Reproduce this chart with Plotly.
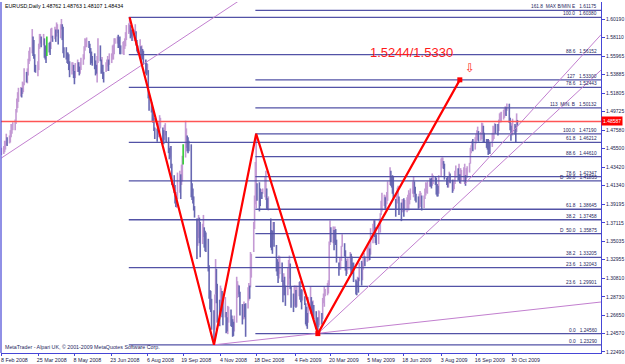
import pandas as pd
import plotly.graph_objects as go

# ---------------- data (prices x 10000, one value per trading day, from 8 Feb 2008) ----------------
bar_low = [
    14480,
    14490, 14510, 14540, 14590, 14580,
    14610, 14620, 14680, 14720, 14760,
    14760, 14830, 14960, 15010, 15080,
    15140, 15130, 15170, 15190, 15270,
    15300, 15290, 15380, 15510, 15540,
    15630, 15600, 15570, 15420, 15410,
    15370, 15440, 15680, 15740, 15700,
    15720, 15580, 15560, 15520, 15600,
    15640, 15610, 15680, 15800, 15760,
    15790, 15760, 15820, 15860, 15730,
    15800, 15900, 15780, 15630, 15580,
    15560, 15520, 15510, 15440, 15360,
    15390, 15430, 15350, 15280, 15350,
    15420, 15420, 15380, 15400, 15440,
    15500, 15560, 15660, 15700, 15700,
    15690, 15630, 15500, 15520, 15490,
    15450, 15380, 15400, 15300, 15520,
    15540, 15400, 15420, 15340, 15300,
    15420, 15430, 15480, 15430, 15500,
    15520, 15560, 15560, 15620, 15740,
    15740, 15690, 15700, 15620, 15620,
    15620, 15610, 15680, 15710, 15780,
    15850, 15870, 15800, 15820, 15770,
    15770, 15850, 15720, 15650, 15630,
    15640, 15540, 15580, 15560, 15500,
    15400, 15380, 15400, 15120, 14980,
    14960, 14860, 14840, 14750, 14660,
    14630, 14700, 14680, 14740, 14780,
    14620, 14600, 14650, 14700, 14620,
    14500, 14430, 14450, 14330, 14140,
    14050, 13930, 13890, 13880, 13980,
    14050, 13980, 14140, 14180, 14370,
    14450, 14560, 14520, 14500, 14520,
    14000, 13970, 13930, 13850, 13770,
    13300, 13450, 13540, 13480, 13320,
    13470, 13550, 13430, 13390, 13380,
    13160, 12850, 12730, 12700, 12500,
    12329, 12500, 12900, 12800, 12580,
    12540, 12740, 12800, 12640, 12550,
    12640, 12460, 12480, 12450, 12580,
    12540, 12530, 12420, 12430, 12480,
    12580, 12860, 12900, 12870, 12660,
    12560, 12620, 12620, 12640, 12420,
    12740, 12830, 12850, 12980, 13090,
    13380, 13640, 13920, 13880, 13960,
    13840, 13900, 13980, 13980, 14040,
    14000, 13970, 13870, 13860, 13850,
    13430, 13400, 13360, 13520, 13440,
    13160, 13110, 13030, 13080, 13130,
    13040, 12810, 12890, 12890, 12770,
    12890, 13010, 13080, 12960, 12750,
    12700, 12760, 12780, 12750, 12760,
    12880, 12840, 12810, 12730, 12830,
    12780, 12560, 12540, 12510, 12580,
    12680, 12700, 12680, 12720, 12620,
    12510, 12490, 12456, 12530, 12550,
    12560, 12620, 12800, 12760, 12880,
    12890, 12910, 13000, 13460, 13490,
    13480, 13400, 13490, 13460, 13260,
    13110, 13180, 13180, 13280, 13440,
    13330, 13170, 13110, 13130, 13180,
    13180, 13140, 13140, 13130, 13040,
    12900, 12890, 12990, 12920, 13050,
    13000, 13060, 13180, 13230, 13220,
    13270, 13320, 13280, 13290, 13350,
    13480, 13600, 13550, 13480, 13460,
    13470, 13640, 13600, 13800, 13840,
    13900, 13870, 13860, 13920, 13960,
    14140, 14130, 14110, 14040, 13970,
    13780, 13870, 13930, 13960, 13800,
    13730, 13830, 13840, 13780, 13840,
    13830, 13880, 13850, 13920, 13970,
    14040, 14000, 14040, 13960, 13940,
    13870, 13880, 13890, 13920, 13850,
    13880, 13980, 14020, 14050, 14040,
    14120, 14120, 14100, 14130, 14150,
    14140, 14030, 14010, 14010, 14040,
    14230, 14330, 14370, 14320, 14200,
    14140, 14110, 14110, 14170, 14160,
    14050, 14070, 14090, 14150, 14220,
    14190, 14210, 14160, 14150, 14190,
    14180, 14150, 14130, 14200, 14220,
    14280, 14380, 14500, 14570, 14520,
    14540, 14610, 14640, 14650, 14630,
    14640, 14660, 14720, 14620, 14620,
    14560, 14540, 14480, 14500, 14490,
    14570, 14640, 14660, 14720, 14720,
    14700, 14750, 14840, 14860, 14850,
    14880, 14900, 14930, 14920, 14980,
    14840, 14760, 14640, 14730, 14700,
    14710, 14620, 14740, 14811,
]
bar_high = [
    14560,
    14580, 14640, 14640, 14720, 14680,
    14700, 14760, 14830, 14820, 14850,
    14880, 15000, 15120, 15190, 15240,
    15250, 15240, 15310, 15300, 15460,
    15420, 15460, 15570, 15660, 15700,
    15905, 15820, 15780, 15620, 15500,
    15540, 15740, 15850, 15850, 15820,
    15850, 15800, 15720, 15700, 15820,
    15750, 15760, 15910, 15920, 15830,
    15930, 15900, 15980, 15960, 15900,
    15960, 16019, 15960, 15930, 15700,
    15700, 15640, 15640, 15620, 15540,
    15530, 15530, 15500, 15430, 15520,
    15560, 15530, 15480, 15530, 15580,
    15620, 15710, 15800, 15790, 15810,
    15770, 15740, 15690, 15650, 15600,
    15630, 15550, 15500, 15600, 15800,
    15720, 15560, 15590, 15500, 15420,
    15530, 15560, 15600, 15560, 15630,
    15630, 15720, 15730, 15800, 15800,
    15820, 15840, 15780, 15820, 15720,
    15760, 15770, 15800, 15870, 15950,
    15970, 16038, 15950, 15900, 15880,
    15900, 15960, 15880, 15780, 15720,
    15790, 15710, 15720, 15680, 15660,
    15560, 15520, 15510, 15440, 15160,
    15080, 15000, 14980, 14900, 14790,
    14780, 14830, 14850, 14930, 14900,
    14790, 14760, 14820, 14840, 14750,
    14680, 14560, 14580, 14580, 14380,
    14250, 14140, 14010, 14060, 14280,
    14300, 14260, 14370, 14470, 14600,
    14867, 14780, 14700, 14680, 14640,
    14600, 14160, 14100, 14010, 13900,
    13760, 13760, 13800, 13770, 13720,
    13700, 13800, 13660, 13620, 13600,
    13530, 13230, 12950, 12940, 12850,
    12720, 12900, 13300, 13190, 13020,
    12840, 13000, 12970, 12940, 12850,
    12870, 12700, 12640, 12770, 12760,
    12730, 12660, 12620, 12590, 12660,
    13100, 13050, 13010, 13000, 12930,
    12790, 12790, 12820, 12790, 12800,
    12980, 13030, 13000, 13380, 13360,
    13720, 14020, 14400, 14719, 14160,
    14170, 14100, 14090, 14060, 14100,
    14230, 14300, 14100, 13990, 14010,
    13760, 13630, 13620, 13720, 13720,
    13460, 13300, 13270, 13340, 13330,
    13260, 13060, 13140, 13100, 13000,
    13200, 13290, 13340, 13250, 12990,
    12910, 13000, 13000, 12950, 13000,
    13040, 13050, 12950, 12960, 12950,
    12880, 12800, 12760, 12690, 12870,
    12990, 12870, 12820, 12830, 12780,
    12710, 12630, 12640, 12720, 12710,
    12690, 12860, 12910, 12990, 12960,
    13030, 13060, 13500, 13738, 13660,
    13670, 13630, 13670, 13640, 13520,
    13260, 13320, 13320, 13450, 13580,
    13480, 13400, 13280, 13300, 13310,
    13380, 13360, 13330, 13260, 13260,
    13070, 13050, 13100, 13090, 13260,
    13280, 13260, 13330, 13370, 13330,
    13440, 13440, 13480, 13420, 13650,
    13700, 13740, 13740, 13660, 13580,
    13700, 13760, 13820, 13960, 14050,
    14030, 14000, 14020, 14060, 14180,
    14340, 14300, 14230, 14250, 14230,
    13980, 14030, 14110, 14130, 14010,
    13940, 13980, 13980, 13990, 13970,
    14000, 14030, 14080, 14050, 14100,
    14180, 14240, 14180, 14120, 14040,
    14010, 14040, 14070, 14050, 14020,
    14020, 14100, 14170, 14160, 14180,
    14220, 14210, 14220, 14270, 14250,
    14240, 14220, 14150, 14130, 14250,
    14440, 14450, 14450, 14410, 14380,
    14220, 14230, 14240, 14290, 14270,
    14200, 14180, 14200, 14300, 14360,
    14330, 14380, 14260, 14330, 14310,
    14340, 14380, 14250, 14330, 14350,
    14390, 14560, 14590, 14640, 14660,
    14680, 14720, 14760, 14800, 14750,
    14740, 14845, 14840, 14810, 14730,
    14660, 14660, 14660, 14650, 14620,
    14730, 14810, 14790, 14840, 14830,
    14830, 14880, 14950, 14960, 14970,
    14990, 15010, 15030, 15020, 15061,
    15060, 14900, 14810, 14840, 14890,
    14830, 14810, 14950, 14876,
]
first_day = "2008-02-08"
green_days = ["2008-04-04", "2008-09-19"]

zigzag_dates = ["2008-07-15", "2008-10-27", "2008-12-18", "2009-03-04", "2009-08-26"]
zigzag_prices = [1.6038, 1.2329, 1.4719, 1.2456, 1.5330]
marker_dates = ["2009-03-04", "2009-08-26"]
marker_prices = [1.2456, 1.5330]

fib_a_start = "2008-07-14"
fib_a_levels = [1.60380, 1.56152, 1.52443, 1.46212, 1.41855, 1.37458, 1.32043, 1.23290]
fib_a_names = ["100.0", "88.6", "78.6", "61.8", "D  50.0", "38.2", "23.6", "0.0"]
fib_b_start = "2008-12-17"
fib_b_levels = [1.61175, 1.53300, 1.50132, 1.47190, 1.44610, 1.42347, 1.38645,
                1.35875, 1.33205, 1.29901, 1.24560]
fib_b_names = ["161.8  MAX B/MIN E", "127", "113  MIN. B", "100.0", "88.6", "78.6",
               "61.8", "D  50.0", "38.2", "23.6", "0.0"]

trend_lines = {
    "t1": (["2008-02-08", "2008-12-31"], [1.4445, 1.6433]),
    "t2": (["2008-10-27", "2010-02-16"], [1.2329, 1.2814]),
    "t3": (["2009-03-04", "2010-02-16"], [1.2456, 1.5440]),
    "t4": (["2009-09-01", "2010-02-16"], [1.4150, 1.5841]),
}

hline_price = 1.48587
ytick_vals = [1.60190, 1.58110, 1.55965, 1.53885, 1.51805, 1.49725, 1.47580, 1.45500,
              1.43420, 1.41340, 1.39195, 1.37115, 1.35035, 1.32955, 1.30810, 1.28730,
              1.26650, 1.24570, 1.22490]
xtick_dates = ["2008-02-08", "2008-03-25", "2008-05-08", "2008-06-23", "2008-08-06",
               "2008-09-19", "2008-11-04", "2008-12-18", "2009-02-04", "2009-03-20",
               "2009-05-05", "2009-06-18", "2009-08-03", "2009-09-16", "2009-10-30"]
xtick_text = ["8 Feb 2008", "25 Mar 2008", "8 May 2008", "23 Jun 2008", "6 Aug 2008",
              "19 Sep 2008", "4 Nov 2008", "18 Dec 2008", "4 Feb 2009", "20 Mar 2009",
              "5 May 2009", "18 Jun 2009", "3 Aug 2009", "16 Sep 2009", "30 Oct 2009"]
title_text = "EURUSD,Daily 1.48762 1.48763 1.48107 1.48434"
target_text = "1.5244/1.5330"
target_date, target_price = "2009-05-05", 1.5645
arrow_date, arrow_price = "2009-09-07", 1.5464
footer_text = "MetaTrader - Alpari UK, \u00a9 2001-2009 MetaQuotes Software Corp."

x_start, x_end = "2008-02-07 12:00", "2010-02-16"
y_lo, y_hi = 1.22365, 1.62115

# ---------------- build ----------------
FONT = "Liberation Sans"
FIB_COLOR = "#5252a6"
AXIS_COLOR = "#4646d6"
dates = pd.bdate_range(first_day, periods=len(bar_low))
green_set = set(pd.to_datetime(green_days))

groups = {"up": ([], []), "down": ([], []), "green": ([], [])}
prev_mid = None
for d, lo, hi in zip(dates, bar_low, bar_high):
    mid = (lo + hi) / 2
    key = "up" if (prev_mid is None or mid >= prev_mid) else "down"
    if d in green_set:
        key = "green"
    prev_mid = mid
    xs, ys = groups[key]
    xs += [d, d, None]
    ys += [lo / 10000, hi / 10000, None]

fig = go.Figure()
bar_colors = {"up": "#c49ad4", "down": "#6868b2", "green": "#33cc33"}
for key, (xs, ys) in groups.items():
    fig.add_trace(go.Scatter(x=xs, y=ys, mode="lines",
                             line=dict(color=bar_colors[key], width=1.6),
                             hoverinfo="skip", showlegend=False))

annotations = []
for start, levels, names in ((fib_a_start, fib_a_levels, fib_a_names),
                             (fib_b_start, fib_b_levels, fib_b_names)):
    for lvl, name in zip(levels, names):
        fig.add_trace(go.Scatter(x=[start, x_end], y=[lvl, lvl], mode="lines",
                                 line=dict(color=FIB_COLOR, width=1.3),
                                 hoverinfo="skip", showlegend=False))
        annotations.append(dict(
            xref="paper", x=0.995, xanchor="right", yref="y", y=lvl, yanchor="bottom",
            text=name.replace(" ", "\u00a0") + "\u00a0\u00a0\u00a0" + f"{lvl:.5f}",
            showarrow=False, borderpad=0, font=dict(family=FONT, size=4.8, color="#25255e")))

for xs, ys in trend_lines.values():
    fig.add_trace(go.Scatter(x=xs, y=ys, mode="lines",
                             line=dict(color="#c27fcf", width=1),
                             hoverinfo="skip", showlegend=False))

fig.add_trace(go.Scatter(x=[x_start, x_end], y=[hline_price, hline_price], mode="lines",
                         line=dict(color="#ff5555", width=1.4),
                         hoverinfo="skip", showlegend=False))

fig.add_trace(go.Scatter(x=zigzag_dates, y=zigzag_prices, mode="lines",
                         line=dict(color="#ff0000", width=2.2),
                         hoverinfo="skip", showlegend=False))
fig.add_trace(go.Scatter(x=marker_dates, y=marker_prices, mode="markers",
                         marker=dict(color="#ff0000", size=5, symbol="square"),
                         hoverinfo="skip", showlegend=False))

annotations += [
    dict(xref="x", x=target_date, xanchor="left", yref="y", y=target_price, yanchor="middle",
         text=target_text, showarrow=False, font=dict(family=FONT, size=13, color="#ff1a1a")),
    dict(xref="x", x=arrow_date, xanchor="center", yref="y", y=arrow_price, yanchor="middle",
         text="\u21e9", showarrow=False, font=dict(family="DejaVu Sans", size=12, color="#ff1a1a")),
    dict(xref="paper", x=1.0, xanchor="left", yref="y", y=hline_price, yanchor="middle",
         text=f"{hline_price:.5f}", showarrow=False, bgcolor="#ff0000", borderpad=1,
         font=dict(family=FONT, size=5, color="#ffffff")),
    dict(xref="paper", x=0.003, xanchor="left", yref="paper", y=0.989, yanchor="middle",
         text=title_text, showarrow=False, font=dict(family=FONT, size=5.3, color="#000000")),
    dict(xref="paper", x=0.003, xanchor="left", yref="paper", y=0.016, yanchor="middle",
         text=footer_text, showarrow=False, font=dict(family=FONT, size=5.3, color="#25255e")),
]

fig.update_layout(
    width=625, height=364,
    margin=dict(l=1, r=18, t=2, b=11),
    paper_bgcolor="white", plot_bgcolor="white",
    showlegend=False,
    annotations=annotations,
    shapes=[dict(type="line", xref="paper", yref="paper", x0=0, x1=0, y0=0, y1=1,
                 line=dict(color=AXIS_COLOR, width=1.2))],
    xaxis=dict(type="date", range=[x_start, x_end], showgrid=False, zeroline=False,
               showline=True, linecolor=AXIS_COLOR, linewidth=1.2,
               tickmode="array", tickvals=xtick_dates, ticktext=xtick_text,
               ticks="outside", ticklen=2, tickcolor=AXIS_COLOR, ticklabelshift=13,
               tickfont=dict(family=FONT, size=5.3, color="#20204a")),
    yaxis=dict(range=[y_lo, y_hi], side="right", showgrid=False, zeroline=False,
               showline=True, linecolor=AXIS_COLOR, linewidth=1.2,
               tickmode="array", tickvals=ytick_vals,
               ticktext=[f"{v:.5f}" for v in ytick_vals],
               ticks="outside", ticklen=3, tickcolor=AXIS_COLOR,
               tickfont=dict(family=FONT, size=5, color="#20204a")),
)

fig.write_html("out.html")
